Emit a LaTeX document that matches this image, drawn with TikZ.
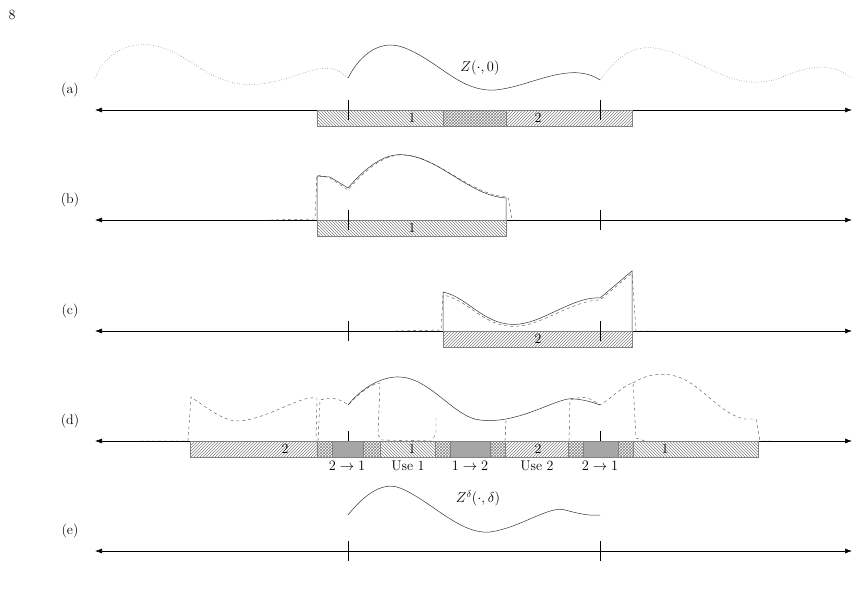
\documentclass[tikz,border=0pt]{standalone}
\usetikzlibrary{patterns,arrows.meta}
\begin{document}
\begin{tikzpicture}[x=1pt,y=-1pt,
 ax/.style={{Latex[length=7pt,width=5pt]}-{Latex[length=7pt,width=5pt]},line width=0.6pt},
 tk/.style={line width=0.3pt},
 one/.style={draw=gray,pattern=north west lines,pattern color=gray},
 two/.style={draw=gray,pattern=north east lines,pattern color=gray},
 both/.style={draw=gray,pattern=crosshatch,pattern color=gray},
 gr/.style={draw=gray,fill=gray!70},
 sol/.style={line width=0.5pt,black!80},
 das/.style={dashed,line width=0.4pt,black!70},
 dot/.style={dotted,line width=0.5pt,black!60},
 lab/.style={font=\fontsize{14}{16}\selectfont,inner sep=1pt}]
\useasboundingbox (0,0) rectangle (859,594);
\node[lab] (pg) at (12,15) {8};
% axes
\foreach \n/\y/\l in {a/110/(a),b/220/(b),c/331/(c),d/441/(d),e/551/(e)}{
 \coordinate (L\n) at (95,\y); \coordinate (R\n) at (852,\y);
 \draw[ax] (L\n) -- (R\n);
 \node[lab] (lab\n) at (70,\y-20) {\l};
}
% (a)
\draw[one] (317,110) rectangle (443,126);
\draw[both] (443,110) rectangle (506,126);
\draw[two] (506,110) rectangle (632,126);
\node[lab] (a1) at (412,118) {1};
\node[lab] (a2) at (538,118) {2};
\draw[tk] (348,100)--(348,120) (600,100)--(600,120);
\draw[sol] (348,78) .. controls (360,55) and (380,38) .. (405,48) .. controls (440,62) and (460,92) .. (495,90) .. controls (530,87) and (570,60) .. (600,80);
\draw[dot] (95,78) .. controls (105,55) and (125,42) .. (150,45) .. controls (190,50) and (210,90) .. (260,84) .. controls (300,80) and (325,55) .. (348,78);
\draw[dot] (600,80) .. controls (615,60) and (630,45) .. (655,48) .. controls (700,55) and (730,95) .. (780,78) .. controls (810,65) and (830,62) .. (852,78);
\node[lab] (za) at (480,68) {$Z(\cdot,0)$};
% (b)
\draw[one] (317,220) rectangle (506,236);
\node[lab] (b1) at (412,228) {1};
\draw[tk] (348,210)--(348,230) (600,210)--(600,230);
\draw[das] (270,220) -- (315,219) -- (317,175) -- (330,178) -- (348,190) .. controls (365,170) and (385,153) .. (405,155) .. controls (440,158) and (470,195) .. (508,197) -- (512,220) -- (520,220);
\draw[sol] (317,220) -- (317,176) -- (330,177) -- (348,188) .. controls (365,168) and (385,152) .. (405,155) .. controls (440,158) and (470,196) .. (506,198) -- (506,220);
% (c)
\draw[two] (443,331) rectangle (632,347);
\node[lab] (c2) at (538,339) {2};
\draw[tk] (348,321)--(348,341) (600,321)--(600,341);
\draw[das] (395,331) -- (441,330) -- (443,295) .. controls (470,300) and (485,330) .. (520,326) .. controls (545,323) and (575,300) .. (600,300) -- (632,273) -- (636,331) -- (655,331);
\draw[sol] (443,331) -- (443,292) .. controls (470,298) and (485,328) .. (520,324) .. controls (545,321) and (575,296) .. (600,298) -- (632,271) -- (632,331);
% (d)
\draw[two] (190,441) rectangle (317,457);
\draw[both] (317,441) rectangle (332,457);
\draw[gr] (332,441) rectangle (363,457);
\draw[both] (363,441) rectangle (380,457);
\draw[one] (380,441) rectangle (435,457);
\draw[both] (435,441) rectangle (450,457);
\draw[gr] (450,441) rectangle (490,457);
\draw[both] (490,441) rectangle (505,457);
\draw[two] (505,441) rectangle (568,457);
\draw[both] (568,441) rectangle (583,457);
\draw[gr] (583,441) rectangle (618,457);
\draw[both] (618,441) rectangle (633,457);
\draw[one] (633,441) rectangle (758,457);
\node[lab] (d2a) at (285,449) {2};
\node[lab] (d1a) at (412,449) {1};
\node[lab] (d2b) at (538,449) {2};
\node[lab] (d1b) at (665,449) {1};
\node[lab] (t1) at (347,466) {$2\rightarrow1$};
\node[lab] (t2) at (408,466) {Use 1};
\node[lab] (t3) at (470,466) {$1\rightarrow2$};
\node[lab] (t4) at (537,466) {Use 2};
\node[lab] (t5) at (600,466) {$2\rightarrow1$};
\draw[tk] (348,431)--(348,441) (600,431)--(600,441);
\draw[das] (140,441) -- (188,441) -- (191,397) .. controls (210,410) and (225,422) .. (240,421) .. controls (270,418) and (300,395) .. (317,398) -- (316,441);
\draw[das] (318,441) -- (320,400) .. controls (330,397) and (340,398) .. (348,405) .. controls (355,398) and (370,383) .. (380,383) -- (378,435) -- (382,440) -- (432,441) -- (436,433) -- (436,418);
\draw[das] (505,441) -- (506,420) (569,441) -- (570,400) .. controls (585,395) and (590,398) .. (600,405) .. controls (612,398) and (625,384) .. (633,383) -- (636,438) -- (645,441);
\draw[das] (633,383) .. controls (645,375) and (660,372) .. (675,376) .. controls (700,382) and (720,415) .. (745,419) -- (756,419) -- (760,441) -- (770,441);
\draw[sol] (348,405) .. controls (360,390) and (380,376) .. (400,377) .. controls (430,378) and (455,418) .. (480,420) .. controls (520,425) and (560,395) .. (575,399) .. controls (585,400) and (592,402) .. (600,405);
% (e)
\draw[tk] (348,541)--(348,561) (600,541)--(600,561);
\draw[sol] (348,515) .. controls (360,500) and (380,480) .. (400,488) .. controls (430,500) and (460,535) .. (490,532) .. controls (520,528) and (550,505) .. (565,510) .. controls (580,514) and (590,516) .. (600,515);
\node[lab] (ze) at (478,498) {$Z^{\delta}(\cdot,\delta)$};
\end{tikzpicture}
\end{document}
